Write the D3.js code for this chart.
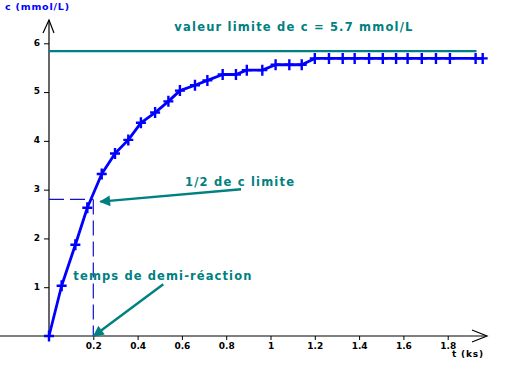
<!DOCTYPE html>
<html>
<head>
<meta charset="utf-8">
<script src="https://cdn.jsdelivr.net/npm/d3@7"></script>
<style>
  body { margin: 0; background: #fff; }
  svg { display: block; }
  .tick text { font-family: "DejaVu Sans", sans-serif; font-weight: bold; font-size: 9px; fill: #000; }
</style>
</head>
<body>
<svg id="chart" width="506" height="371"></svg>
<script>
// time in ks, concentration in mmol/L
const times = [0, 0.057, 0.119, 0.173, 0.238, 0.298, 0.358, 0.415, 0.479, 0.539,
               0.591, 0.659, 0.715, 0.784, 0.844, 0.893, 0.963, 1.023, 1.085, 1.141,
               1.2, 1.264, 1.326, 1.38, 1.445, 1.507, 1.567, 1.619, 1.683, 1.747,
               1.81, 1.926, 1.958];
const conc = [0, 1.03, 1.87, 2.63, 3.32, 3.74, 4.02, 4.37, 4.58, 4.81,
              5.03, 5.14, 5.24, 5.36, 5.36, 5.45, 5.45, 5.56, 5.56, 5.56,
              5.69, 5.69, 5.69, 5.69, 5.69, 5.69, 5.69, 5.69, 5.69, 5.69,
              5.69, 5.69, 5.69];
const xTicks = [0.2, 0.4, 0.6, 0.8, 1, 1.2, 1.4, 1.6, 1.8];
const yTicks = [1, 2, 3, 4, 5, 6];
const limitValue = 5.84;      // drawn level of the teal asymptote
const limitEnd = 1.93;
const halfTime = 0.2;
const halfConc = 2.8;

let svg = d3.select("#chart");
let teal = "#008080";

let xScale = d3.scaleLinear().domain([0, 2]).range([49, 492]);
let yScale = d3.scaleLinear().domain([0, 6]).range([336, 43.3]);

// axes (ticks + labels), domain lines drawn by hand with arrows
let gx = svg.append("g").attr("transform", `translate(0, ${yScale(0)})`)
  .call(d3.axisBottom(xScale).tickValues(xTicks).tickSize(4).tickPadding(3)
    .tickFormat(d => String(+d.toFixed(1))));
gx.select(".domain").remove();
gx.selectAll(".tick line").attr("stroke", "#000");

let gy = svg.append("g").attr("transform", `translate(${xScale(0)}, 0)`)
  .call(d3.axisLeft(yScale).tickValues(yTicks).tickSize(5).tickPadding(4)
    .tickFormat(d3.format("d")));
gy.select(".domain").remove();
gy.selectAll(".tick text").attr("dy", "0.2em");

let axes = svg.append("g").attr("stroke", "#000").attr("fill", "none").attr("stroke-width", 1.2);
axes.append("line").attr("x1", 0).attr("x2", 487).attr("y1", yScale(0)).attr("y2", yScale(0));
axes.append("path").attr("d", `M472,330L487,${yScale(0)}L472,342`);
axes.append("line").attr("x1", xScale(0)).attr("x2", xScale(0)).attr("y1", 20).attr("y2", yScale(0));
axes.append("path").attr("d", `M43,33L${xScale(0)},20L54,33`);

// axis titles
svg.append("text").attr("x", 5).attr("y", 10)
  .attr("font-family", "DejaVu Sans").attr("font-weight", "bold").attr("font-size", "9.5px")
  .attr("fill", "#0000ff").attr("textLength", 64).text("c (mmol/L)");
svg.append("text").attr("x", 452).attr("y", 357)
  .attr("font-family", "DejaVu Sans").attr("font-weight", "bold").attr("font-size", "9px")
  .attr("fill", "#000").attr("textLength", 31).text("t (ks)");

// limit line
svg.append("line")
  .attr("x1", xScale(0)).attr("x2", xScale(limitEnd))
  .attr("y1", yScale(limitValue)).attr("y2", yScale(limitValue))
  .attr("stroke", teal).attr("stroke-width", 2.2);

// half reaction dashed guides
let dash = svg.append("g").attr("stroke", "#1010d0").attr("stroke-width", 1.2)
  .attr("stroke-dasharray", "15,6");
dash.append("line").attr("x1", xScale(0)).attr("x2", xScale(halfTime))
  .attr("y1", yScale(halfConc)).attr("y2", yScale(halfConc));
dash.append("line").attr("x1", xScale(halfTime)).attr("x2", xScale(halfTime))
  .attr("y1", yScale(halfConc)).attr("y2", yScale(0));

// data curve
let line = d3.line().x((d, i) => xScale(times[i])).y(d => yScale(d));
svg.append("path").datum(conc)
  .attr("d", line)
  .attr("fill", "none").attr("stroke", "#0000ff").attr("stroke-width", 2.8)
  .attr("stroke-linejoin", "round");

svg.append("g").selectAll(".pt")
  .data(conc)
  .join("path")
  .attr("class", "pt")
  .attr("transform", (d, i) => `translate(${xScale(times[i])}, ${yScale(d)})`)
  .attr("d", "M-5,0H5M0,-5.5V5.5")
  .attr("stroke", "#0000ff").attr("stroke-width", 2.4);

// annotation arrows
svg.append("defs").append("marker")
  .attr("id", "head").attr("viewBox", "0 0 10 10").attr("refX", 9).attr("refY", 5)
  .attr("markerWidth", 5).attr("markerHeight", 4.5).attr("orient", "auto")
  .append("path").attr("d", "M0,0L10,5L0,10Z").attr("fill", teal);

let arrows = [
  {from: [0.867, 3.007], to: [0.232, 2.755]},
  {from: [0.516, 1.06], to: [0.202, 0.0]}
];
svg.append("g").selectAll("line")
  .data(arrows)
  .join("line")
  .attr("x1", d => xScale(d.from[0])).attr("y1", d => yScale(d.from[1]))
  .attr("x2", d => xScale(d.to[0])).attr("y2", d => yScale(d.to[1]))
  .attr("stroke", teal).attr("stroke-width", 2.4)
  .attr("marker-end", "url(#head)");

// annotation texts
let notes = [
  {t: 0.566, c: 6.25, w: 238, text: "valeur limite de c = 5.7 mmol/L"},
  {t: 0.614, c: 3.08, w: 109, text: "1/2 de c limite"},
  {t: 0.110, c: 1.15, w: 178, text: "temps de demi-réaction"}
];
svg.append("g").selectAll("text")
  .data(notes)
  .join("text")
  .attr("x", d => xScale(d.t)).attr("y", d => yScale(d.c))
  .attr("font-family", "DejaVu Sans").attr("font-weight", "bold").attr("font-size", "11.5px")
  .attr("fill", teal)
  .attr("textLength", d => d.w).attr("lengthAdjust", "spacing")
  .text(d => d.text);
</script>
</body>
</html>
